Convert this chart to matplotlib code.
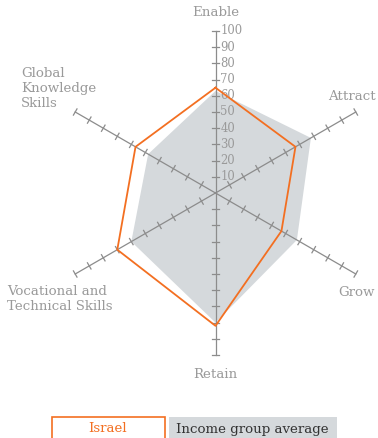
import numpy as np
import matplotlib
matplotlib.use("Agg")
import matplotlib.pyplot as plt
from matplotlib.patches import Rectangle

# dados
categorias = ["Enable", "Attract", "Grow", "Retain",
              "Vocational and\nTechnical Skills", "Global\nKnowledge\nSkills"]
israel = [65, 57, 47, 82, 70, 57]
media_grupo = [63, 68, 58, 80, 60, 48]
ticks = [10, 20, 30, 40, 50, 60, 70, 80, 90, 100]

laranja = "#F36F21"
cinza_area = "#D5D9DC"
cinza_eixo = "#8C8C8C"
cinza_texto = "#9A9A9A"

plt.rcParams["font.family"] = ["DejaVu Serif"]

W, H = 378, 438
fig = plt.figure(figsize=(W / 100, H / 100), dpi=100)

# escala: 100 unidades = 162 px, centro em (215.5, 193) px
k = 1.62
cx, cy = 215.5, 193
ax = fig.add_axes([0, 0, 1, 1])
ax.set_xlim(-cx / k, (W - cx) / k)
ax.set_ylim(-(H - cy) / k, cy / k)
ax.axis("off")

angulos = np.deg2rad([90, 30, -30, -90, -150, 150])


def xy(valores):
    v = np.array(valores, dtype=float)
    x = v * np.cos(angulos)
    y = v * np.sin(angulos)
    return np.append(x, x[0]), np.append(y, y[0])


# área da média do grupo
gx, gy = xy(media_grupo)
ax.fill(gx, gy, color=cinza_area, lw=0, zorder=1)

# eixos e marcações
for a in angulos:
    ax.plot([0, 100 * np.cos(a)], [0, 100 * np.sin(a)], color=cinza_eixo, lw=0.9, zorder=2)
    px, py = -np.sin(a), np.cos(a)
    for t in ticks:
        bx, by = t * np.cos(a), t * np.sin(a)
        ax.plot([bx - 2.2 * px, bx + 2.2 * px], [by - 2.2 * py, by + 2.2 * py],
                color=cinza_eixo, lw=0.9, zorder=2)

for t in ticks:
    ax.text(3.0, t, str(t), fontsize=8.4, color=cinza_texto, va="center", ha="left", zorder=3)

# linha de Israel
ix, iy = xy(israel)
ax.plot(ix, iy, color=laranja, lw=1.3, zorder=4)

# rótulos das categorias
fs = 9.6
ax.text(0, (cy - 13) / k, categorias[0], fontsize=fs, color=cinza_texto, ha="center", va="center")
ax.text((376 - cx) / k, (cy - 97) / k, categorias[1], fontsize=fs, color=cinza_texto,
        ha="right", va="center")
ax.text((338 - cx) / k, (cy - 292) / k, categorias[2], fontsize=fs, color=cinza_texto,
        ha="left", va="center")
ax.text(0, (cy - 375) / k, categorias[3], fontsize=fs, color=cinza_texto, ha="center", va="center")
ax.text((7 - cx) / k, (cy - 299) / k, categorias[4], fontsize=fs, color=cinza_texto,
        ha="left", va="center", linespacing=1.2)
ax.text((21 - cx) / k, (cy - 89) / k, categorias[5], fontsize=fs, color=cinza_texto,
        ha="left", va="center", linespacing=1.2)

# legenda em coordenadas de pixel
lg = fig.add_axes([0, 0, 1, 1])
lg.set_xlim(0, W)
lg.set_ylim(H, 0)
lg.axis("off")
lg.add_patch(Rectangle((51.5, 416.5), 113, 25, facecolor="white", edgecolor=laranja, lw=1.2))
lg.text(108, 429, "Israel", fontsize=fs, color=laranja, ha="center", va="center")
lg.add_patch(Rectangle((169, 417), 168, 25, facecolor=cinza_area, edgecolor="none"))
lg.text(252, 429, "Income group average", fontsize=fs, color="#333333", ha="center", va="center")

fig.savefig("out.png", dpi=100)
